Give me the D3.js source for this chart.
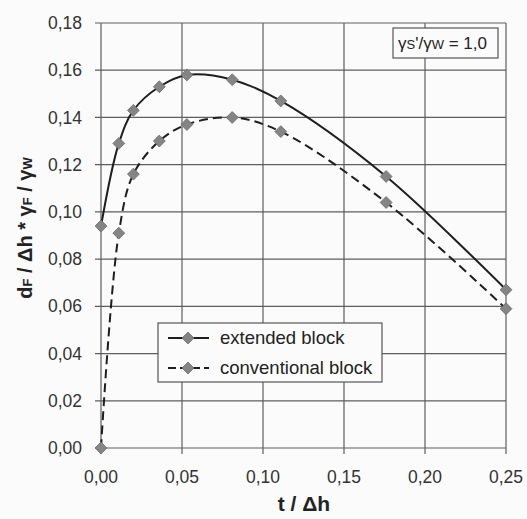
<!DOCTYPE html>
<html>
<head>
<meta charset="utf-8">
<script src="https://cdn.jsdelivr.net/npm/d3@7"></script>
<style>
  body { margin: 0; background: #fbfbfb; }
  svg { display: block; font-family: "Liberation Sans", Arial, sans-serif; }
</style>
</head>
<body>
<div id="chart"></div>
<script>
// values
const tValues = [0, 0.011, 0.02, 0.036, 0.053, 0.081, 0.111, 0.176, 0.25];
const extendedBlock = [0.094, 0.129, 0.143, 0.153, 0.158, 0.156, 0.147, 0.115, 0.067];
const conventionalBlock = [0.000, 0.091, 0.116, 0.130, 0.137, 0.140, 0.134, 0.104, 0.059];
const xTicks = [0, 0.05, 0.10, 0.15, 0.20, 0.25];
const yTicks = [0, 0.02, 0.04, 0.06, 0.08, 0.10, 0.12, 0.14, 0.16, 0.18];
const seriesNames = ["extended block", "conventional block"];

const W = 527, H = 519;
const margin = {top: 23, right: 20, bottom: 71, left: 101},
    width = W - margin.left - margin.right,
    height = H - margin.top - margin.bottom;

const svg = d3.select("#chart")
    .append("svg")
    .attr("width", W)
    .attr("height", H);

const g = svg.append("g")
    .attr("transform", `translate(${margin.left},${margin.top})`);

const x = d3.scaleLinear().domain([0, 0.25]).range([0, width - 1]);
const y = d3.scaleLinear().domain([0, 0.18]).range([height, 0]);

const fmt = d => d3.format(".2f")(d).replace(".", ",");
const gridColor = "#5e5e5e";

// grid
g.append("g")
    .selectAll("line")
    .data(yTicks)
    .join("line")
    .attr("x1", -6).attr("x2", x(0.25))
    .attr("y1", d => y(d)).attr("y2", d => y(d))
    .attr("stroke", gridColor).attr("stroke-width", 1.2);

g.append("g")
    .selectAll("line")
    .data(xTicks)
    .join("line")
    .attr("x1", d => x(d)).attr("x2", d => x(d))
    .attr("y1", 0).attr("y2", height + 6)
    .attr("stroke", gridColor).attr("stroke-width", 1.2);

// axis labels
g.append("g")
    .selectAll("text")
    .data(yTicks)
    .join("text")
    .attr("x", -19)
    .attr("y", d => y(d))
    .attr("dy", "0.35em")
    .attr("text-anchor", "end")
    .attr("font-size", 17.5)
    .attr("fill", "#333")
    .text(fmt);

g.append("g")
    .selectAll("text")
    .data(xTicks)
    .join("text")
    .attr("x", d => x(d))
    .attr("y", height + 29)
    .attr("dy", "0.35em")
    .attr("text-anchor", "middle")
    .attr("font-size", 17.5)
    .attr("fill", "#333")
    .text(fmt);

// series
const line = d3.line()
    .x(d => x(d[0]))
    .y(d => y(d[1]))
    .curve(d3.curveCatmullRom.alpha(0.5));

const series = [
    {name: seriesNames[0], values: extendedBlock, dash: null},
    {name: seriesNames[1], values: conventionalBlock, dash: "9,5"}
];

const diamond = d3.symbol().type(d3.symbolDiamond2).size(90);

series.forEach(s => {
    const pts = tValues.map((t, i) => [t, s.values[i]]);
    g.append("path")
        .attr("d", line(pts))
        .attr("fill", "none")
        .attr("stroke", "#1e1e1e")
        .attr("stroke-width", 2)
        .attr("stroke-dasharray", s.dash);
    g.append("g")
        .selectAll("path")
        .data(pts)
        .join("path")
        .attr("d", diamond)
        .attr("transform", d => `translate(${x(d[0])},${y(d[1])})`)
        .attr("fill", "#858585")
        .attr("stroke", "#6a6a6a")
        .attr("stroke-width", 0.8);
});

// legend
const legend = svg.append("g").attr("transform", "translate(158,323)");
legend.append("rect")
    .attr("width", 224).attr("height", 59)
    .attr("fill", "#fbfbfb")
    .attr("stroke", "#555").attr("stroke-width", 1.2);

series.forEach((s, i) => {
    const ly = 15 + i * 30;
    legend.append("line")
        .attr("x1", 10).attr("x2", 51)
        .attr("y1", ly).attr("y2", ly)
        .attr("stroke", "#1e1e1e").attr("stroke-width", 2)
        .attr("stroke-dasharray", s.dash ? "8,4" : null);
    legend.append("path")
        .attr("d", diamond)
        .attr("transform", `translate(30,${ly})`)
        .attr("fill", "#858585")
        .attr("stroke", "#6a6a6a")
        .attr("stroke-width", 0.8);
    legend.append("text")
        .attr("x", 62).attr("y", ly)
        .attr("dy", "0.35em")
        .attr("font-size", 18.5)
        .attr("fill", "#222")
        .text(s.name);
});

// annotation box
const note = svg.append("g").attr("transform", "translate(393,28)");
note.append("rect")
    .attr("width", 105).attr("height", 30)
    .attr("fill", "#fbfbfb")
    .attr("stroke", "#555").attr("stroke-width", 1.2);
const noteText = note.append("text")
    .attr("x", 5).attr("y", 15).attr("dy", "0.35em")
    .attr("font-size", 17).attr("fill", "#222");
noteText.append("tspan").text("γ");
noteText.append("tspan").attr("font-size", 13).text("S");
noteText.append("tspan").text("'/γ");
noteText.append("tspan").attr("font-size", 13).text("W");
noteText.append("tspan").text(" = 1,0");

// axis titles
svg.append("text")
    .attr("x", margin.left + width / 2)
    .attr("y", 511)
    .attr("text-anchor", "middle")
    .attr("font-size", 21)
    .attr("font-weight", "bold")
    .attr("fill", "#222")
    .text("t / Δh");

const yt = svg.append("text")
    .attr("transform", `translate(32,228) rotate(-90)`)
    .attr("text-anchor", "middle")
    .attr("font-size", 20)
    .attr("font-weight", "bold")
    .attr("fill", "#222");
yt.append("tspan").text("d");
yt.append("tspan").attr("font-size", 13).text("F");
yt.append("tspan").text(" / Δh  * γ");
yt.append("tspan").attr("font-size", 13).text("F");
yt.append("tspan").text(" / γ");
yt.append("tspan").attr("font-size", 13).text("W");
</script>
</body>
</html>
